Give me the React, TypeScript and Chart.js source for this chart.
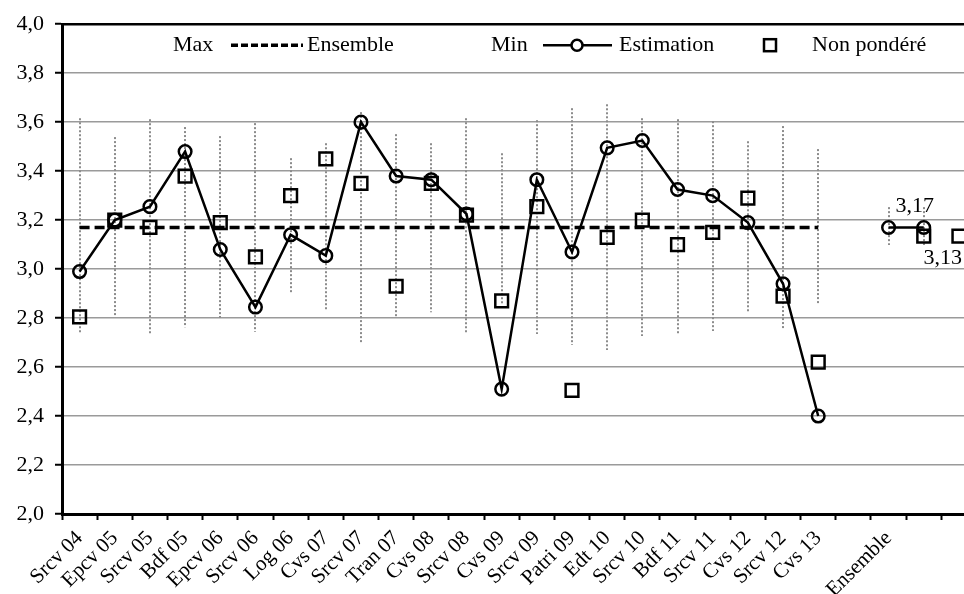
import React, { useEffect, useRef } from 'react';
import { Chart, registerables } from 'chart.js';

Chart.register(...registerables);

const FONT = "'Liberation Serif', 'Times New Roman', serif";

const categories = [
  'Srcv 04', 'Epcv 05', 'Srcv 05', 'Bdf 05', 'Epcv 06', 'Srcv 06', 'Log 06', 'Cvs 07',
  'Srcv 07', 'Tran 07', 'Cvs 08', 'Srcv 08', 'Cvs 09', 'Srcv 09', 'Patri 09', 'Edt 10',
  'Srcv 10', 'Bdf 11', 'Srcv 11', 'Cvs 12', 'Srcv 12', 'Cvs 13', '', 'Ensemble', '', '',
];

const maxValues = [
  3.616, 3.539, 3.612, 3.58, 3.543, 3.596, 3.453, 3.514, 3.641, 3.551, 3.514, 3.616, 3.473,
  3.608, 3.657, 3.673, 3.616, 3.612, 3.604, 3.522, 3.584, 3.49, null, 3.253, 3.253, null,
];

const minValues = [
  2.735, 2.812, 2.735, 2.763, 2.8, 2.743, 2.902, 2.829, 2.698, 2.8, 2.824, 2.735, 2.86,
  2.735, 2.69, 2.67, 2.727, 2.735, 2.747, 2.82, 2.759, 2.853, null, 3.098, 3.098, null,
];

const estimation = [
  2.99, 3.2, 3.255, 3.48, 3.08, 2.845, 3.14, 3.055, 3.6, 3.38, 3.365, 3.225, 2.51,
  3.365, 3.07, 3.495, 3.525, 3.325, 3.3, 3.19, 2.94, 2.4, null, 3.17, 3.17, null,
];

const nonPondere = [
  2.805, 3.2, 3.17, 3.38, 3.19, 3.05, 3.3, 3.45, 3.35, 2.93, 3.35, 3.22, 2.87,
  3.255, 2.505, 3.13, 3.2, 3.1, 3.15, 3.29, 2.89, 2.62, null, null, 3.135, 3.135,
];

const ensemble = [
  3.17, 3.17, 3.17, 3.17, 3.17, 3.17, 3.17, 3.17, 3.17, 3.17, 3.17, 3.17, 3.17,
  3.17, 3.17, 3.17, 3.17, 3.17, 3.17, 3.17, 3.17, 3.17, null, null, null, null,
];

const estimationLabel = { index: 24, value: 3.17, text: '3,17' };
const nonPondereLabel = { index: 24, value: 3.135, text: '3,13' };

const Y_MIN = 2;
const Y_MAX = 4;
const Y_STEP = 0.2;

const highLowPlugin = {
  id: 'highLow',
  beforeDatasetsDraw(chart: any) {
    const { ctx, scales } = chart;
    const xs = scales.x;
    const ys = scales.y;
    ctx.save();
    ctx.strokeStyle = '#8c8c8c';
    ctx.lineWidth = 2;
    ctx.setLineDash([2, 2]);
    for (let i = 0; i < categories.length; i++) {
      const hi = maxValues[i];
      const lo = minValues[i];
      if (hi == null || lo == null) continue;
      const x = Math.round(xs.getPixelForValue(i));
      ctx.beginPath();
      ctx.moveTo(x, ys.getPixelForValue(hi));
      ctx.lineTo(x, ys.getPixelForValue(lo));
      ctx.stroke();
    }
    ctx.restore();
  },
};

const decorPlugin = {
  id: 'decor',
  afterDraw(chart: any) {
    const { ctx, chartArea, scales } = chart;
    const xs = scales.x;
    const ys = scales.y;
    ctx.save();
    // top border
    ctx.strokeStyle = '#000';
    ctx.lineWidth = 2.5;
    ctx.beginPath();
    ctx.moveTo(chartArea.left, chartArea.top);
    ctx.lineTo(chartArea.right, chartArea.top);
    ctx.stroke();

    // data labels
    ctx.fillStyle = '#000';
    ctx.font = `22px ${FONT}`;
    ctx.textAlign = 'center';
    ctx.textBaseline = 'middle';
    ctx.fillText(
      estimationLabel.text,
      xs.getPixelForValue(estimationLabel.index) - 9,
      ys.getPixelForValue(estimationLabel.value) - 21,
    );
    ctx.fillText(
      nonPondereLabel.text,
      xs.getPixelForValue(nonPondereLabel.index) + 19,
      ys.getPixelForValue(nonPondereLabel.value) + 22,
    );

    // legend
    const L = chartArea.left;
    const ly = chartArea.top + 21;
    ctx.textAlign = 'left';
    ctx.fillText('Max', L + 111, ly);
    ctx.lineWidth = 3.5;
    ctx.setLineDash([7, 3]);
    ctx.beginPath();
    ctx.moveTo(L + 169, ly);
    ctx.lineTo(L + 241, ly);
    ctx.stroke();
    ctx.setLineDash([]);
    ctx.fillText('Ensemble', L + 245, ly);

    ctx.fillText('Min', L + 429, ly);
    ctx.lineWidth = 2.5;
    ctx.beginPath();
    ctx.moveTo(L + 481, ly);
    ctx.lineTo(L + 550, ly);
    ctx.stroke();
    ctx.fillStyle = '#fff';
    ctx.beginPath();
    ctx.arc(L + 515, ly, 5.5, 0, Math.PI * 2);
    ctx.fill();
    ctx.stroke();
    ctx.fillStyle = '#000';
    ctx.fillText('Estimation', L + 557, ly);

    ctx.lineWidth = 2.5;
    ctx.strokeRect(L + 702, ly - 6, 12, 12);
    ctx.fillText('Non pondéré', L + 750, ly);
    ctx.restore();
  },
};

export default function App() {
  const canvasRef = useRef<HTMLCanvasElement | null>(null);

  useEffect(() => {
    const canvas = canvasRef.current;
    if (!canvas) return;
    const chart = new Chart(canvas, {
      type: 'line',
      data: {
        labels: categories,
        datasets: [
          {
            label: 'Non pondéré',
            data: nonPondere,
            showLine: false,
            pointStyle: 'rect',
            pointRadius: 9,
            pointBorderWidth: 2.5,
            borderColor: '#000',
            backgroundColor: 'rgba(0,0,0,0)',
            pointBackgroundColor: 'rgba(0,0,0,0)',
          },
          {
            label: 'Estimation',
            data: estimation,
            borderColor: '#000',
            borderWidth: 2.5,
            pointStyle: 'circle',
            pointRadius: 6.3,
            pointBorderWidth: 2.5,
            pointBorderColor: '#000',
            pointBackgroundColor: 'rgba(0,0,0,0)',
            backgroundColor: 'rgba(0,0,0,0)',
            spanGaps: false,
            tension: 0,
          },
          {
            label: 'Ensemble',
            data: ensemble,
            borderColor: '#000',
            borderWidth: 3.5,
            borderDash: [10, 5],
            pointRadius: 0,
            spanGaps: false,
          },
          {
            label: 'Max',
            data: maxValues,
            showLine: false,
            pointRadius: 0,
          },
          {
            label: 'Min',
            data: minValues,
            showLine: false,
            pointRadius: 0,
          },
        ],
      },
      options: {
        responsive: false,
        animation: false,
        events: [],
        layout: { padding: { top: 24, right: 1, left: 0, bottom: 0 } },
        plugins: {
          legend: { display: false },
          tooltip: { enabled: false },
        },
        scales: {
          x: {
            type: 'category',
            offset: true,
            grid: {
              display: true,
              offset: true,
              drawOnChartArea: false,
              drawTicks: true,
              tickLength: 6,
              tickColor: '#000',
              tickWidth: 2,
            },
            border: { display: true, color: '#000', width: 3 },
            ticks: {
              autoSkip: false,
              maxRotation: 45,
              minRotation: 45,
              padding: 6,
              color: '#000',
              font: { family: FONT, size: 21 },
            },
            afterFit: (s: any) => {
              s.height = 80;
            },
          },
          y: {
            min: Y_MIN,
            max: Y_MAX,
            ticks: {
              stepSize: Y_STEP,
              callback: (v: any) => Number(v).toFixed(1).replace('.', ','),
              color: '#000',
              padding: 11,
              font: { family: FONT, size: 22 },
            },
            grid: {
              color: '#9a9a9a',
              lineWidth: 1.5,
              tickLength: 7,
              tickColor: '#000',
              tickWidth: 2,
            },
            border: { display: true, color: '#000', width: 3 },
            afterFit: (s: any) => {
              s.width = 62;
            },
          },
        },
      },
      plugins: [highLowPlugin, decorPlugin],
    } as any);
    return () => chart.destroy();
  }, []);

  return (
    <div
      style={{
        position: 'fixed',
        left: 0,
        top: 0,
        width: 964,
        height: 594,
        overflow: 'hidden',
        background: '#fff',
      }}
    >
      <canvas ref={canvasRef} width={988} height={594} style={{ display: 'block' }} />
    </div>
  );
}
